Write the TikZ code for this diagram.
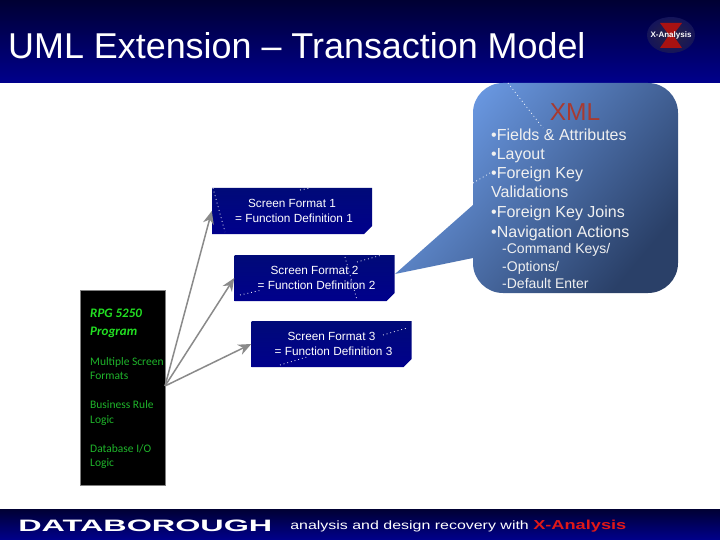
\documentclass[tikz,border=0pt]{standalone}
\usepackage{fontspec}
\setmainfont{Liberation Sans}
\newfontfamily\greenfont{Carlito}
\usetikzlibrary{arrows.meta, shapes.misc}
\definecolor{navytop}{HTML}{000033}
\definecolor{navybot}{HTML}{00008C}
\definecolor{boxtop}{HTML}{000A78}
\definecolor{boxbot}{HTML}{00008C}
\definecolor{bubblelt}{HTML}{6E9EEA}
\definecolor{bubbledk}{HTML}{2A4068}
\definecolor{xmlred}{HTML}{A83A30}
\definecolor{arrowgray}{HTML}{8A8A8A}
\definecolor{rpggreen}{HTML}{1FB52B}
\definecolor{rpgbright}{HTML}{22E022}
\definecolor{logored}{HTML}{E01818}
\definecolor{logodark}{HTML}{2A2440}
\definecolor{logoedge}{HTML}{14145A}
\definecolor{bubbletext}{HTML}{F0F0F0}
\tikzset{
  screenbox/.style={chamfered rectangle, chamfered rectangle corners=south east,
    chamfered rectangle xsep=4pt, chamfered rectangle ysep=4pt,
    top color=boxtop, bottom color=boxbot, draw=none,
    minimum width=160pt, minimum height=46pt, inner sep=0pt, text=white,
    align=center, font=\fontsize{11.8}{14.5}\selectfont},
  speckle/.style={white, line width=0.8pt, dash pattern=on 0.8pt off 3pt},
  rpgtext/.style={rpggreen, anchor=base west, inner sep=0pt, font=\greenfont\fontsize{11.5}{13}\selectfont},
  rpghead/.style={rpgtext, rpgbright, font=\greenfont\bfseries\itshape\fontsize{13}{15}\selectfont},
  xmlitem/.style={bubbletext, anchor=base west, inner sep=0pt, font=\fontsize{16}{18}\selectfont},
  xmlsub/.style={bubbletext, anchor=base west, inner sep=0pt, font=\fontsize{14}{17}\selectfont},
  greyarrow/.style={arrowgray, line width=1.5pt, -{Stealth[length=13pt, width=11pt]}}
}
\begin{document}
\begin{tikzpicture}[x=1pt, y=-1pt]
\useasboundingbox (0,0) rectangle (720,540);
\fill[white] (0,0) rectangle (720,540);

% --- Header band ---
\shade[top color=navytop, bottom color=navybot] (0,0) rectangle (720,83);
\node[white, anchor=west, inner sep=0pt, font=\fontsize{35.9}{40}\selectfont] (title) at (8,46) {UML Extension -- Transaction Model};

% Logo
\shade[inner color=logodark, outer color=logoedge] (671,35) ellipse [x radius=24, y radius=18];
\fill[logored!75!black] (660,23) -- (682,23) -- (673,35) -- (682,48) -- (660,48) -- (669,35) -- cycle;
\node[white, inner sep=0pt, font=\fontsize{8}{9}\bfseries\selectfont] (logotext) at (671,35) {X-Analysis};

% --- XML bubble with tail ---
\shade[top color=bubblelt, bottom color=bubbledk, shading angle=50]
  (503,83) -- (648,83) .. controls (664.6,83) and (678,96.4) .. (678,113)
  -- (678,263) .. controls (678,279.6) and (664.6,293) .. (648,293)
  -- (503,293) .. controls (486.4,293) and (473,279.6) .. (473,263)
  -- (473,258) -- (395,274) -- (473,205)
  -- (473,113) .. controls (473,96.4) and (486.4,83) .. (503,83) -- cycle;
\draw[speckle] (508,83) -- (543,128);
\draw[speckle] (473,183) -- (495,170);

\node[xmlred, inner sep=0pt, font=\fontsize{24.5}{28}\selectfont] (xmltitle) at (575,112) {XML};
\foreach \y/\txt [count=\i] in {141/{\textbullet Fields \& Attributes}, 160/{\textbullet Layout}, 179/{\textbullet Foreign Key}, 198/{Validations}, 218/{\textbullet Foreign Key Joins}, 237/{\textbullet Navigation Actions}}
  \node[xmlitem] (xmlitem\i) at (491,\y) {\txt};
\foreach \y/\txt [count=\i] in {254/{-Command Keys/}, 271/{-Options/}, 288/{-Default Enter}}
  \node[xmlsub] (xmlsub\i) at (502,\y) {\txt};

% --- Screen format boxes ---
\node[screenbox] (format1) at (292,211) {Screen Format 1\\\hspace*{4pt}= Function Definition 1};
\node[screenbox] (format2) at (314.5,278) {Screen Format 2\\\hspace*{4pt}= Function Definition 2};
\node[screenbox] (format3) at (331.5,344) {Screen Format 3\\\hspace*{4pt}= Function Definition 3};

% Specks on the boxes
\draw[speckle] (213,188) -- (225,232);
\draw[speckle] (300,190) -- (310,188);
\draw[speckle] (345,257) -- (357,300);
\draw[speckle] (240,295) -- (262,290);
\draw[speckle] (357,262) -- (382,255);
\draw[speckle] (383,335) -- (407,328);
\draw[speckle] (280,365) -- (307,357);

% --- RPG program box ---
\node[fill=black, draw=black!50, line width=0.8pt, minimum width=85pt, minimum height=195pt, inner sep=0pt, anchor=north west] (rpgbox) at (80,290) {};
\node[rpghead] (rpgname) at (90,317) {RPG 5250};
\node[rpghead] (rpgprog) at (90,335) {Program};
\node[rpgtext] (rpgscreen) at (90,365) {Multiple Screen};
\node[rpgtext] (rpgformats) at (90,379) {Formats};
\node[rpgtext] (rpgrule) at (90,408) {Business Rule};
\node[rpgtext] (rpglogic) at (90,423) {Logic};
\node[rpgtext] (rpgdb) at (90,452) {Database I/O};
\node[rpgtext] (rpgdblogic) at (90,466) {Logic};

% Arrows
\coordinate (rpgout) at (165,386);
\draw[greyarrow] (rpgout) -- (format1.west);
\draw[greyarrow] (rpgout) -- (format2.west);
\draw[greyarrow] (rpgout) -- (format3.west);

% --- Footer band ---
\shade[top color=navytop, bottom color=navybot] (0,509) rectangle (720,540);
\node[white, anchor=west, inner sep=0pt, xscale=1.96, font=\fontsize{16.5}{18}\bfseries\selectfont] (brand) at (18,526) {DATABOROUGH};
\node[white, anchor=west, inner sep=0pt, xscale=1.33, font=\fontsize{12}{14}\selectfont] (tagline) at (290,526) {analysis and design recovery with};
\node[logored, anchor=west, inner sep=0pt, xscale=1.4, font=\fontsize{13}{14}\bfseries\selectfont] (tagbrand) at (533,526) {X-Analysis};

\end{tikzpicture}
\end{document}
